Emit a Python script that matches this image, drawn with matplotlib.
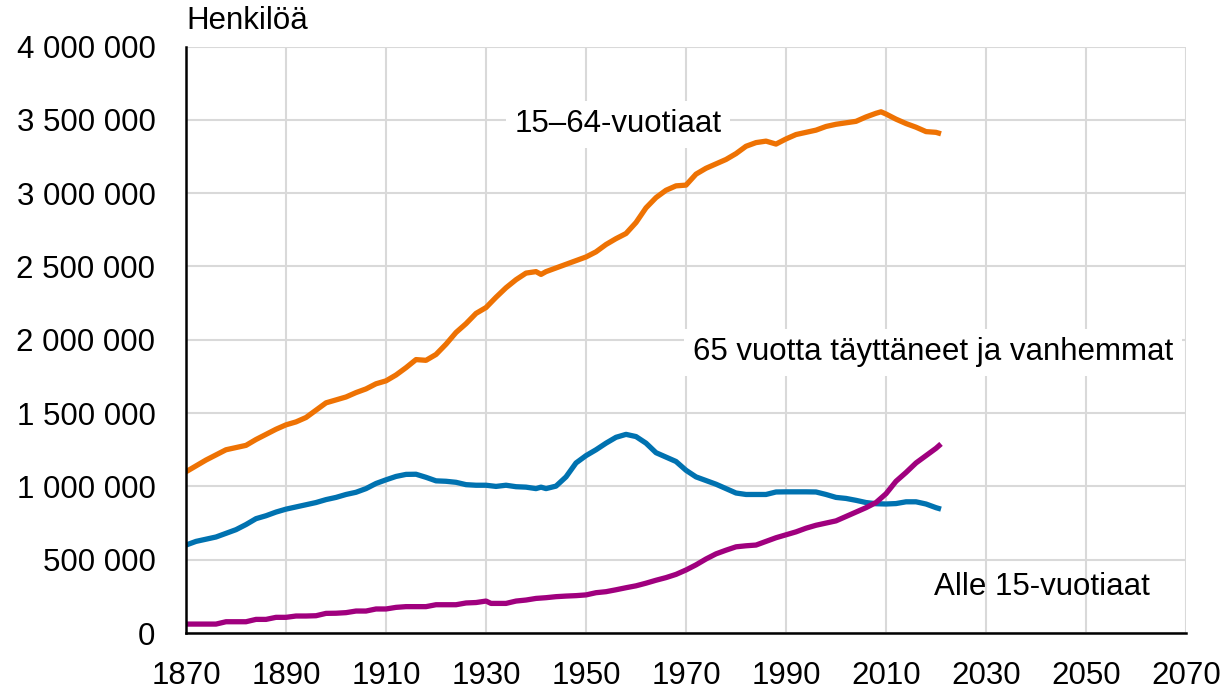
"""
    Finland population by age group, 1870-2021
"""

import matplotlib
matplotlib.use("Agg")
import matplotlib.pyplot as plt
from matplotlib.ticker import FuncFormatter, FixedLocator, MultipleLocator

plt.rcParams['font.family'] = ['Liberation Sans', 'DejaVu Sans']

# 15-64 year olds (millions)
years_working = [1870, 1872, 1874, 1876, 1878, 1880, 1882, 1884, 1886, 1888,
                 1890, 1892, 1894, 1896, 1898, 1900, 1902, 1904, 1906, 1908,
                 1910, 1912, 1914, 1916, 1918, 1920, 1922, 1924, 1926, 1928,
                 1930, 1932, 1934, 1936, 1938, 1940, 1941, 1942, 1944, 1946,
                 1948, 1950, 1952, 1954, 1956, 1958, 1960, 1962, 1964, 1966,
                 1968, 1970, 1972, 1974, 1976, 1978, 1980, 1982, 1984, 1986,
                 1988, 1990, 1992, 1994, 1996, 1998, 2000, 2002, 2004, 2006,
                 2008, 2009, 2010, 2012, 2014, 2016, 2018, 2020, 2021]
working = [1.100, 1.140, 1.180, 1.215, 1.250, 1.265, 1.280, 1.320, 1.355, 1.390,
           1.420, 1.440, 1.470, 1.520, 1.570, 1.590, 1.610, 1.640, 1.665, 1.700,
           1.720, 1.760, 1.810, 1.865, 1.860, 1.900, 1.970, 2.050, 2.110, 2.180,
           2.220, 2.290, 2.355, 2.410, 2.455, 2.465, 2.446, 2.465, 2.490, 2.515,
           2.540, 2.565, 2.600, 2.650, 2.690, 2.725, 2.800, 2.900, 2.970, 3.020,
           3.050, 3.055, 3.130, 3.170, 3.200, 3.230, 3.270, 3.320, 3.345, 3.355,
           3.335, 3.370, 3.400, 3.415, 3.430, 3.455, 3.470, 3.480, 3.490, 3.520,
           3.545, 3.555, 3.540, 3.505, 3.475, 3.450, 3.420, 3.415, 3.405]

# under 15 year olds (millions)
years_young = [1870, 1872, 1874, 1876, 1878, 1880, 1882, 1884, 1886, 1888,
               1890, 1892, 1894, 1896, 1898, 1900, 1902, 1904, 1906, 1908,
               1910, 1912, 1914, 1916, 1918, 1920, 1922, 1924, 1926, 1928,
               1930, 1932, 1934, 1936, 1938, 1940, 1941, 1942, 1944, 1946,
               1948, 1950, 1952, 1954, 1956, 1958, 1960, 1962, 1964, 1966,
               1968, 1970, 1972, 1974, 1976, 1978, 1980, 1982, 1984, 1986,
               1988, 1990, 1992, 1994, 1996, 1998, 2000, 2002, 2004, 2006,
               2008, 2010, 2012, 2014, 2016, 2018, 2020, 2021]
young = [0.600, 0.625, 0.640, 0.655, 0.680, 0.705, 0.740, 0.780, 0.800, 0.825,
         0.845, 0.860, 0.875, 0.890, 0.910, 0.925, 0.945, 0.960, 0.985, 1.020,
         1.045, 1.068, 1.082, 1.083, 1.062, 1.038, 1.035, 1.028, 1.012, 1.008,
         1.008, 1.000, 1.008, 0.998, 0.995, 0.985, 0.995, 0.985, 1.002, 1.065,
         1.160, 1.210, 1.250, 1.295, 1.335, 1.355, 1.340, 1.295, 1.230, 1.200,
         1.170, 1.110, 1.065, 1.040, 1.015, 0.985, 0.955, 0.945, 0.945, 0.945,
         0.962, 0.963, 0.963, 0.963, 0.962, 0.945, 0.925, 0.918, 0.905, 0.890,
         0.882, 0.880, 0.883, 0.895, 0.895, 0.880, 0.855, 0.845]

# 65 and older (millions)
years_old = [1870, 1872, 1874, 1876, 1878, 1880, 1882, 1884, 1886, 1888,
             1890, 1892, 1894, 1896, 1898, 1900, 1902, 1904, 1906, 1908,
             1910, 1912, 1914, 1916, 1918, 1920, 1922, 1924, 1926, 1928,
             1930, 1931, 1932, 1934, 1936, 1938, 1940, 1942, 1944, 1946,
             1948, 1950, 1952, 1954, 1956, 1958, 1960, 1962, 1964, 1966,
             1968, 1970, 1972, 1974, 1976, 1978, 1980, 1982, 1984, 1986,
             1988, 1990, 1992, 1994, 1996, 1998, 2000, 2002, 2004, 2006,
             2008, 2010, 2012, 2014, 2016, 2018, 2020, 2021]
old = [0.061, 0.061, 0.061, 0.061, 0.077, 0.077, 0.077, 0.093, 0.093, 0.107,
       0.107, 0.116, 0.116, 0.118, 0.134, 0.135, 0.139, 0.150, 0.150, 0.164,
       0.164, 0.175, 0.180, 0.180, 0.180, 0.193, 0.193, 0.193, 0.205, 0.208,
       0.218, 0.202, 0.202, 0.202, 0.218, 0.225, 0.236, 0.241, 0.248, 0.252,
       0.255, 0.260, 0.275, 0.282, 0.295, 0.309, 0.322, 0.340, 0.360, 0.378,
       0.400, 0.430, 0.465, 0.505, 0.540, 0.565, 0.588, 0.595, 0.600, 0.625,
       0.650, 0.670, 0.690, 0.715, 0.735, 0.750, 0.765, 0.795, 0.825, 0.855,
       0.890, 0.950, 1.035, 1.095, 1.160, 1.210, 1.260, 1.290]

x_ticks = [1870, 1890, 1910, 1930, 1950, 1970, 1990, 2010, 2030, 2050, 2070]

ORANGE = '#ee7203'
BLUE = '#0072b0'
PURPLE = '#a0007e'
FS = 22.5

fig = plt.figure(figsize=(12.27, 6.91), dpi=100)
ax = fig.add_axes([0.1516, 0.0839, 0.815, 0.8487])

lw = 3.8
ax.plot(years_working, [v * 1e6 for v in working], color=ORANGE, lw=lw,
        solid_capstyle='butt', zorder=3)
ax.plot(years_young, [v * 1e6 for v in young], color=BLUE, lw=lw,
        solid_capstyle='butt', zorder=3)
ax.plot(years_old, [v * 1e6 for v in old], color=PURPLE, lw=lw,
        solid_capstyle='butt', zorder=3)

ax.set_xlim(1870, 2070)
ax.set_ylim(0, 4_000_000)
ax.xaxis.set_major_locator(FixedLocator(x_ticks))
ax.yaxis.set_major_locator(MultipleLocator(500_000))
ax.yaxis.set_major_formatter(FuncFormatter(lambda v, p: f"{int(v):,}".replace(",", " ")))

ax.grid(True, color='#d9d9d9', lw=1.5, zorder=0)
ax.set_axisbelow(True)
for s in ['top', 'right']:
    ax.spines[s].set_visible(False)
for s in ['left', 'bottom']:
    ax.spines[s].set_linewidth(1.8)
    ax.spines[s].set_color('black')
    ax.spines[s].set_zorder(4)

ax.tick_params(axis='both', length=0, labelsize=FS, colors='black')
ax.tick_params(axis='y', pad=22)
ax.tick_params(axis='x', pad=20)

ax.text(0, 1.018, 'Henkilöä', transform=ax.transAxes, ha='left', va='bottom',
        fontsize=FS)

box = dict(facecolor='white', edgecolor='none', pad=6)
ax.text(1956.4, 3_470_000, '15–64-vuotiaat', ha='center', va='center',
        fontsize=FS, bbox=box, zorder=2)
ax.text(2019.4, 1_915_000, '65 vuotta täyttäneet ja vanhemmat', ha='center',
        va='center', fontsize=FS, bbox=box, zorder=2)
ax.text(2041.2, 313_000, 'Alle 15-vuotiaat', ha='center', va='center',
        fontsize=FS, zorder=2)

fig.savefig('out.png', dpi=100)
